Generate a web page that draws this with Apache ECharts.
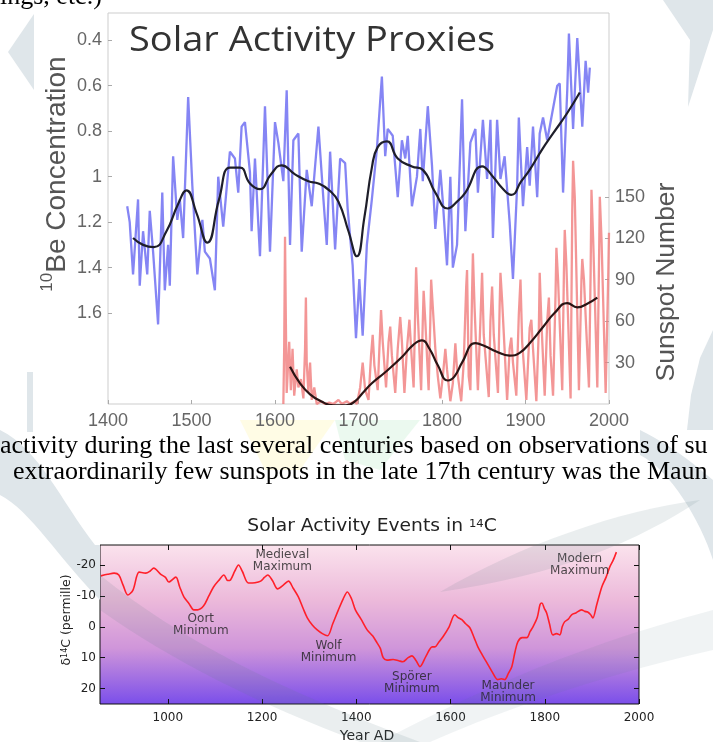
<!DOCTYPE html>
<html>
<head>
<meta charset="utf-8">
<script src="https://cdn.jsdelivr.net/npm/echarts@6/dist/echarts.min.js"></script>
<style>
  html, body { margin: 0; padding: 0; background: #fff; }
  #c { width: 713px; height: 742px; }
</style>
</head>
<body>
<div id="c"></div>
<script>
// ---- Solar activity proxies: 10Be concentration (inverted) and sunspot number ----
const be10 = [
  [1423,1.13],[1426,1.20],[1430,1.43],[1436,1.10],[1438,1.48],[1442,1.24],[1447,1.43],[1450,1.15],
  [1454,1.33],[1460,1.65],[1465,1.07],[1468,1.50],[1472,1.30],[1474,1.48],[1478,0.91],[1483,1.19],
  [1486,1.10],[1490,1.27],[1496,0.65],[1501,1.04],[1507,1.43],[1513,1.19],[1516,1.33],[1522,1.36],
  [1528,1.50],[1532,1.00],[1538,1.22],[1546,0.89],[1552,0.92],[1556,1.07],[1560,0.78],[1564,0.76],
  [1570,0.98],[1572,1.24],[1576,0.92],[1582,1.35],[1588,0.69],[1594,1.33],[1600,0.76],[1604,0.85],
  [1610,1.02],[1614,0.62],[1618,1.30],[1622,0.84],[1628,0.81],[1632,1.33],[1638,0.97],[1644,1.13],
  [1652,0.78],[1658,1.10],[1662,1.30],[1666,0.89],[1672,1.32],[1678,0.92],[1684,0.94],[1687,1.14],
  [1693,1.39],[1697,1.71],[1701,1.45],[1705,1.70],[1710,1.30],[1716,1.10],[1722,0.88],[1728,0.56],
  [1732,0.91],[1735,0.79],[1741,0.82],[1747,1.09],[1752,0.84],[1756,0.92],[1759,0.82],[1764,1.13],
  [1770,1.00],[1774,0.79],[1777,1.02],[1783,0.69],[1788,0.95],[1792,1.23],[1798,0.97],[1801,1.11],
  [1806,1.39],[1810,1.00],[1813,1.40],[1818,1.30],[1824,0.66],[1828,1.24],[1834,0.85],[1840,0.79],
  [1843,1.07],[1849,0.75],[1854,1.01],[1858,0.75],[1861,1.27],[1866,0.75],[1870,1.01],[1875,0.91],
  [1881,1.20],[1885,1.45],[1890,1.04],[1892,0.74],[1897,1.13],[1902,0.87],[1905,1.04],[1909,0.78],
  [1914,1.09],[1917,0.81],[1921,0.74],[1926,0.84],[1932,0.72],[1938,0.60],[1941,0.59],[1945,1.07],
  [1950,0.62],[1952,0.37],[1957,0.79],[1962,0.39],[1968,0.78],[1972,0.49],[1975,0.63],[1977,0.52]
];
const be10Smooth = [
  [1430,1.27],[1442,1.30],[1455,1.31],[1470,1.24],[1484,1.12],[1494,1.06],[1506,1.16],[1519,1.29],
  [1533,1.10],[1546,0.96],[1558,0.96],[1570,1.03],[1582,1.055],[1595,0.99],[1608,0.95],[1624,0.99],
  [1640,1.02],[1652,1.03],[1665,1.06],[1676,1.11],[1688,1.24],[1698,1.35],[1707,1.18],[1716,0.96],
  [1723,0.87],[1734,0.845],[1747,0.92],[1764,0.955],[1777,0.97],[1792,1.07],[1807,1.14],[1818,1.11],
  [1828,1.07],[1848,0.955],[1861,1.00],[1872,1.05],[1883,1.08],[1895,1.02],[1905,0.97],[1920,0.88],
  [1933,0.81],[1950,0.72],[1965,0.63]
];
const sunspots = [
  [1610,0],[1611,40],[1612,121],[1613,60],[1614,8],[1615,20],[1617,45],[1619,10],[1621,40],[1623,6],
  [1626,25],[1628,12],[1631,18],[1634,4],[1636,40],[1637,77],[1638,30],[1640,8],[1642,30],[1644,3],
  [1647,12],[1650,0],[1655,2],[1660,0],[1665,1],[1670,0],[1676,3],[1680,0],[1686,2],[1690,0],
  [1695,2],[1698,0],[1702,12],[1705,30],[1708,10],[1712,3],[1715,35],[1717,50],[1719,28],[1723,10],
  [1725,40],[1727,68],[1729,45],[1733,12],[1736,45],[1738,56],[1740,35],[1744,8],[1747,40],[1750,63],
  [1752,45],[1755,8],[1758,40],[1761,61],[1763,40],[1766,12],[1768,70],[1769,99],[1771,65],[1775,10],
  [1777,60],[1778,82],[1780,60],[1784,10],[1786,60],[1787,90],[1789,70],[1792,40],[1795,20],[1798,4],
  [1801,20],[1804,40],[1806,25],[1810,2],[1813,15],[1816,44],[1818,25],[1823,2],[1826,30],[1829,85],
  [1830,97],[1832,20],[1834,10],[1836,80],[1837,109],[1839,70],[1843,10],[1846,60],[1848,95],[1850,50],
  [1856,5],[1858,60],[1860,85],[1862,50],[1867,8],[1869,70],[1870,95],[1872,75],[1878,3],[1881,40],
  [1883,48],[1885,30],[1889,6],[1892,65],[1894,90],[1896,45],[1901,3],[1905,55],[1907,61],[1909,40],
  [1913,2],[1916,55],[1917,95],[1919,60],[1923,6],[1926,60],[1928,77],[1930,35],[1933,6],[1936,80],
  [1937,113],[1939,90],[1944,10],[1946,95],[1947,126],[1949,100],[1954,4],[1956,140],[1957,176],[1959,150],
  [1964,10],[1967,90],[1968,105],[1970,90],[1976,12],[1978,95],[1979,155],[1981,120],[1986,12],[1988,100],
  [1989,150],[1991,120],[1996,8],[1999,90],[2000,124]
];
const sunspotSmooth = [
  [1618,27],[1630,15],[1642,7],[1655,2],[1670,-1],[1685,-1],[1696,2],[1705,8],[1716,15],[1732,23],
  [1752,34],[1766,43],[1776,46],[1785,40],[1795,28],[1807,17],[1815,20],[1824,30],[1840,44],[1851,42],
  [1865,38],[1881,35],[1893,37],[1905,44],[1920,55],[1935,66],[1950,73],[1962,70],[1975,73],[1986,77]
];
const beTicks = [0.4,0.6,0.8,1,1.2,1.4,1.6];
const sunspotTicks = [30,60,90,120,150];

// ---- Solar activity events in 14C ----
const c14 = [
  [858,-16.5],[872,-17],[886,-17.4],[896,-16.8],[905,-13.5],[915,-10.3],[926,-11.9],[939,-17.7],
  [953,-17.4],[962,-18],[970,-19],[985,-17],[995,-16],[1002,-14.5],[1017,-16.1],[1025,-13],
  [1034,-9.7],[1045,-7.5],[1055,-5.5],[1063,-5.5],[1076,-6.8],[1087,-10],[1097,-12.9],[1108,-15],
  [1119,-16.8],[1127,-15],[1133,-15.2],[1142,-18],[1150,-20],[1158,-18],[1171,-14.2],[1185,-14.3],
  [1197,-14.8],[1205,-16],[1212,-16.8],[1222,-15],[1233,-12.3],[1245,-13.5],[1256,-14.8],[1266,-12.5],
  [1277,-9.7],[1287,-6],[1296,-2.9],[1307,-0.5],[1317,1],[1328,2.2],[1339,2.9],[1350,-1],
  [1362,-5.5],[1372,-9],[1381,-11.3],[1390,-9],[1398,-5.5],[1410,-2.5],[1423,1],[1435,3],
  [1444,5.2],[1451,7],[1457,10],[1465,10.8],[1478,10.6],[1490,11],[1499,11.3],[1510,10],
  [1518,9.4],[1527,11],[1535,12.9],[1548,9.5],[1561,6.5],[1567,6.5],[1575,5],[1584,3.2],
  [1597,0],[1609,-3.9],[1616,-3],[1624,-2.3],[1632,-1],[1641,0.3],[1650,3.5],[1658,6.5],
  [1667,9],[1677,11.6],[1688,14.5],[1700,17.1],[1708,16.8],[1715,17.1],[1723,15],[1730,12.9],
  [1737,8],[1743,4.8],[1752,3.5],[1762,3.5],[1769,1.5],[1775,0],[1784,-3],[1790,-7.2],
  [1794,-7.7],[1799,-6],[1804,-4.5],[1810,-1],[1817,2.6],[1825,2.2],[1832,2.6],[1837,0],
  [1842,-1.6],[1850,-2.5],[1857,-3.9],[1866,-4.5],[1878,-5.5],[1885,-5],[1891,-4.8],[1897,-4],
  [1902,-2.9],[1910,-7],[1921,-12.9],[1930,-16],[1938,-19.4],[1945,-21.5],[1952,-24.2]
];
const c14Events = [
  ['Medieval\nMaximum', 1243, -21.3],
  ['Oort\nMinimum', 1070, -0.6],
  ['Wolf\nMinimum', 1341, 8.1],
  ['Spörer\nMinimum', 1518, 18],
  ['Maunder\nMinimum', 1722, 21],
  ['Modern\nMaximum', 1874, -20]
];
const c14YearTicks = [1000,1200,1400,1600,1800,2000];
const c14Ticks = [-20,-10,0,10,20];

const SANS = '"Liberation Sans", Arial, sans-serif';
const OPEN = '"Open Sans", "Liberation Sans", sans-serif';
const DJ = '"DejaVu Sans", sans-serif';
const SERIF = '"Liberation Serif", "Times New Roman", serif';

const chart = echarts.init(document.getElementById('c'));

const plum = new echarts.graphic.LinearGradient(0, 0, 0, 1, [
  { offset: 0, color: '#fbe3ed' },
  { offset: 0.35, color: '#ecb9da' },
  { offset: 0.65, color: '#cf95da' },
  { offset: 1, color: '#7a4eea' }
]);

const mark = '#dfe6ea';
const plain = v => String(v);

// Flatten a closed outline made of cubic segments into polygon points.
function outline(start, segs) {
  const pts = [start];
  let p0 = start;
  segs.forEach(s => {
    if (s.length === 1) { pts.push(s[0]); p0 = s[0]; return; }
    const [c1, c2, p3] = s;
    for (let i = 1; i <= 16; i++) {
      const t = i / 16, u = 1 - t;
      pts.push([
        u*u*u*p0[0] + 3*u*u*t*c1[0] + 3*u*t*t*c2[0] + t*t*t*p3[0],
        u*u*u*p0[1] + 3*u*u*t*c1[1] + 3*u*t*t*c2[1] + t*t*t*p3[1]
      ]);
    }
    p0 = p3;
  });
  return pts;
}

function tickOnly(extra) {
  return Object.assign({
    type: 'value',
    axisLine: { show: false, onZero: false },
    axisLabel: { show: false },
    splitLine: { show: false }
  }, extra);
}

chart.setOption({
  animation: false,
  backgroundColor: '#ffffff',
  grid: [
    { left: 108, top: 13, width: 501, height: 391, show: true, backgroundColor: 'rgba(255,255,255,0)', borderColor: '#cdcdcd', borderWidth: 1 },
    { left: 100, top: 545, width: 539, height: 159, show: true, backgroundColor: plum, borderColor: '#111', borderWidth: 1 }
  ],
  xAxis: [
    {
      gridIndex: 0, type: 'value', min: 1400, max: 2000, interval: 100,
      axisLine: { show: false, onZero: false },
      axisTick: { inside: true, length: 4, lineStyle: { color: '#aaa' } },
      axisLabel: { formatter: plain, color: '#666', fontFamily: SANS, fontSize: 18, margin: 8 },
      splitLine: { show: false }
    },
    {
      gridIndex: 1, type: 'value', min: 856, max: 2000,
      axisLine: { show: false, onZero: false },
      axisTick: { inside: true, length: 5, customValues: c14YearTicks, lineStyle: { color: '#111' } },
      axisLabel: { customValues: c14YearTicks, formatter: plain, color: '#222', fontFamily: DJ, fontSize: 12, margin: 8 },
      splitLine: { show: false }
    },
    tickOnly({
      gridIndex: 1, position: 'top', min: 856, max: 2000,
      axisTick: { inside: true, length: 5, customValues: c14YearTicks, lineStyle: { color: '#111' } }
    })
  ],
  yAxis: [
    {
      gridIndex: 0, type: 'value', inverse: true, min: 0.28, max: 2.0,
      axisLine: { show: false, onZero: false },
      axisTick: { inside: true, length: 4, customValues: beTicks, lineStyle: { color: '#aaa' } },
      axisLabel: { customValues: beTicks, formatter: plain, color: '#666', fontFamily: SANS, fontSize: 18, margin: 6 },
      splitLine: { show: false }
    },
    {
      gridIndex: 0, type: 'value', position: 'right', min: 0, max: 283,
      axisLine: { show: false, onZero: false },
      axisTick: { inside: true, length: 4, customValues: sunspotTicks, lineStyle: { color: '#aaa' } },
      axisLabel: { customValues: sunspotTicks, color: '#666', fontFamily: SANS, fontSize: 18, margin: 6 },
      splitLine: { show: false }
    },
    {
      gridIndex: 1, type: 'value', inverse: true, min: -26.5, max: 25,
      axisLine: { show: false, onZero: false },
      axisTick: { inside: true, length: 5, customValues: c14Ticks, lineStyle: { color: '#111' } },
      axisLabel: { customValues: c14Ticks, color: '#222', fontFamily: DJ, fontSize: 12, margin: 4 },
      splitLine: { show: false }
    },
    tickOnly({
      gridIndex: 1, position: 'right', inverse: true, min: -26.5, max: 25,
      axisTick: { inside: true, length: 5, customValues: c14Ticks, lineStyle: { color: '#111' } }
    })
  ],
  series: [
    {
      name: 'Sunspot Number', type: 'line', xAxisIndex: 0, yAxisIndex: 1,
      data: sunspots, showSymbol: false, z: 2,
      lineStyle: { color: '#f07c7c', width: 2.3, opacity: 0.8 }
    },
    {
      name: '10Be', type: 'line', xAxisIndex: 0, yAxisIndex: 0,
      data: be10, showSymbol: false, z: 3,
      lineStyle: { color: '#5c5cf0', width: 2.3, opacity: 0.75 }
    },
    {
      name: '10Be trend', type: 'line', xAxisIndex: 0, yAxisIndex: 0,
      data: be10Smooth, showSymbol: false, smooth: 0.5, z: 4,
      lineStyle: { color: '#1e1e2a', width: 2.2 }
    },
    {
      name: 'Sunspot trend', type: 'line', xAxisIndex: 0, yAxisIndex: 1,
      data: sunspotSmooth, showSymbol: false, smooth: 0.5, clip: true, z: 4,
      lineStyle: { color: '#2a1414', width: 2.2 }
    },
    {
      name: 'delta14C', type: 'line', xAxisIndex: 1, yAxisIndex: 2,
      data: c14, showSymbol: false, smooth: 0.3, z: 4,
      lineStyle: { color: '#ff1f2a', width: 1.6 }
    },
    {
      name: 'events', type: 'scatter', xAxisIndex: 1, yAxisIndex: 2,
      data: c14Events.map(e => ({ name: e[0], value: [e[1], e[2]] })),
      symbolSize: 0, z: 5, silent: true,
      label: {
        show: true, position: 'inside', formatter: p => p.name,
        fontFamily: DJ, fontSize: 12, lineHeight: 12, color: '#222', align: 'center'
      }
    }
  ],
  graphic: [
    // page watermark pieces
    { type: 'polygon', z: 0, shape: { points: [[34,14],[8,52],[34,90]] }, style: { fill: mark } },
    { type: 'polygon', z: 0, shape: { points: [[663,0],[713,0],[713,30],[688,107],[690,40]] }, style: { fill: mark } },
    { type: 'polygon', z: 0, shape: { points: [[713,330],[700,358],[691,395],[687,430],[713,430]] }, style: { fill: mark } },
    { type: 'rect', z: 0, shape: { x: 27, y: 372, width: 6, height: 60 }, style: { fill: mark } },
    { type: 'polygon', z: 0, shape: { points: [[240,420],[335,420],[300,470],[265,470]] }, style: { fill: 'rgba(255,246,180,0.35)' } },
    { type: 'polygon', z: 0, shape: { points: [[335,420],[420,420],[380,470],[345,460]] }, style: { fill: 'rgba(205,240,215,0.4)' } },
    { type: 'polygon', z: 0, shape: { points: outline([0,430], [[[40,450],[60,500],[95,545]], [[100,545]], [[100,600]], [[60,560],[30,510],[0,495]]]) }, style: { fill: mark } },
    { type: 'polygon', z: 0, shape: { points: outline([640,430], [[[680,450],[700,470],[713,480]], [[713,560]], [[700,520],[670,470],[640,455]]]) }, style: { fill: mark } },
    // translucent swooshes laid over the lower chart
    { type: 'polygon', z: 50, silent: true, shape: { points: outline([100,575], [[[180,640],[280,690],[420,742]], [[360,742]], [[260,705],[170,660],[100,610]]]) }, style: { fill: 'rgba(90,120,130,0.13)' } },
    { type: 'polygon', z: 50, silent: true, shape: { points: outline([440,592], [[[520,545],[620,510],[700,500]], [[640,540],[560,575],[440,592]]]) }, style: { fill: 'rgba(90,120,130,0.13)' } },
    { type: 'polygon', z: 50, silent: true, shape: { points: outline([380,742], [[[450,705],[560,650],[713,610]], [[713,650]], [[580,680],[480,720],[430,742]]]) }, style: { fill: 'rgba(90,120,130,0.09)' } },
    // titles
    { type: 'text', z: 10, x: 129, y: 24, scaleX: 1.085, style: { text: 'Solar Activity Proxies', fontFamily: OPEN, fontSize: 35, fill: '#333', verticalAlign: 'top' } },
    {
      type: 'text', z: 10, x: 372, y: 527, scaleX: 1.1,
      style: {
        text: 'Solar Activity Events in {sup|14}C', fontFamily: DJ, fontSize: 17, fill: '#222', align: 'center', verticalAlign: 'middle',
        rich: { sup: { fontFamily: DJ, fontSize: 10.5, fill: '#222', verticalAlign: 'top', lineHeight: 10 } }
      }
    },
    // document text around the figures
    { type: 'text', z: 10, x: 0, y: 10, style: { text: 'ings, etc.)', fontFamily: SERIF, fontSize: 26, fill: '#000', verticalAlign: 'bottom' } },
    { type: 'text', z: 10, x: 0, y: 446, style: { text: 'activity during the last several centuries based on observations of su', fontFamily: SERIF, fontSize: 26, fill: '#000', verticalAlign: 'middle' } },
    { type: 'text', z: 10, x: 13, y: 472, style: { text: 'extraordinarily few sunspots in the late 17th century was the Maun', fontFamily: SERIF, fontSize: 26, fill: '#000', verticalAlign: 'middle' } },
    // axis names
    {
      type: 'text', z: 10, x: 55, y: 174, rotation: Math.PI / 2,
      style: {
        text: '{sup|10}{n|Be Concentration}', align: 'center', verticalAlign: 'middle',
        rich: {
          n: { fontFamily: SANS, fontSize: 28, fill: '#555', lineHeight: 32, verticalAlign: 'bottom' },
          sup: { fontFamily: SANS, fontSize: 17, fill: '#555', lineHeight: 32, verticalAlign: 'top' }
        }
      }
    },
    { type: 'text', z: 10, x: 667, y: 282, rotation: Math.PI / 2, style: { text: 'Sunspot Number', fontFamily: SANS, fontSize: 26.5, fill: '#555', align: 'center', verticalAlign: 'middle' } },
    {
      type: 'text', z: 10, x: 67, y: 620, rotation: Math.PI / 2,
      style: {
        text: 'δ{sup|14}C (permille)', fontFamily: DJ, fontSize: 12.5, fill: '#222', align: 'center', verticalAlign: 'middle',
        rich: { sup: { fontFamily: DJ, fontSize: 8, fill: '#222', verticalAlign: 'top', lineHeight: 8 } }
      }
    },
    { type: 'text', z: 10, x: 367, y: 736, style: { text: 'Year AD', fontFamily: DJ, fontSize: 14, fill: '#222', align: 'center', verticalAlign: 'middle' } }
  ]
});
</script>
</body>
</html>
